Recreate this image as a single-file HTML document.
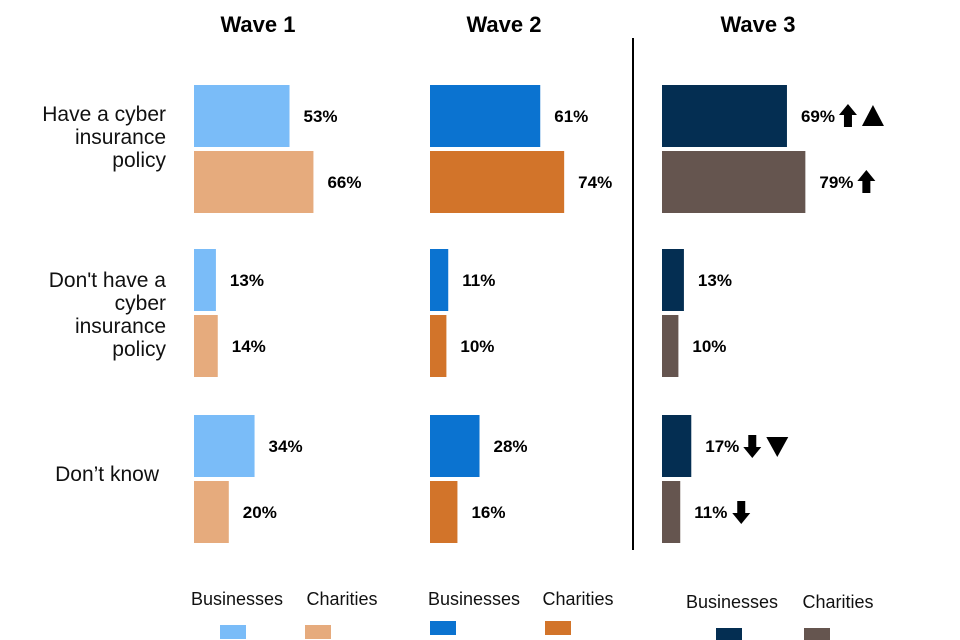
<!DOCTYPE html>
<html><head><meta charset="utf-8"><style>
body{margin:0;background:#fff}
svg{display:block;font-family:"Liberation Sans",Arial,sans-serif}
</style></head><body>
<svg id="c" width="960" height="640" viewBox="0 0 960 640">
<line x1="633" y1="38" x2="633" y2="550" stroke="#000" stroke-width="2"/>
<g font-size="21" fill="#111" text-anchor="end">
<text x="166" y="121"><tspan x="166">Have a cyber</tspan><tspan x="166" dy="23">insurance</tspan><tspan x="166" dy="23">policy</tspan></text>
<text x="166" y="287"><tspan x="166">Don't have a</tspan><tspan x="166" dy="23">cyber</tspan><tspan x="166" dy="23">insurance</tspan><tspan x="166" dy="23">policy</tspan></text>
<text x="159" y="481">Don’t know</text>
</g>
<g id="bars"></g>
</svg>
<script>
const waves=["Wave 1","Wave 2","Wave 3"];
const categories=["Have a cyber insurance policy","Don't have a cyber insurance policy","Don't know"];
const businesses=[[53,13,34],[61,11,28],[69,13,17]];
const charities=[[66,14,20],[74,10,16],[79,10,11]];
const busMarks=[["","",""],["","",""],["up-tri","","down-tri"]];
const charMarks=[["","",""],["","",""],["up","","down"]];
const ns="http://www.w3.org/2000/svg";
const g=document.getElementById('bars');
const waveX=[194,430,662], titleX=[258,504,758];
const busCol=["#7abcf8","#0b73d0","#042e52"], charCol=["#e6ab7d","#d2742a","#65554f"];
const groupY=[85,249,415];
const scale=p=>p*1.84-2;
function el(t,a){const e=document.createElementNS(ns,t);for(const k in a)e.setAttribute(k,a[k]);g.appendChild(e);return e;}
function arrow(x,cy,dir){const s=dir==="up"?-1:1;
 const e=el('path',{d:`M${x} ${cy+12*s} L${x-9} ${cy+1*s} L${x-4} ${cy+1*s} L${x-4} ${cy-11*s} L${x+4} ${cy-11*s} L${x+4} ${cy+1*s} L${x+9} ${cy+1*s} Z`,fill:'#000'});
 
 }
function tri(x,cy,dir){
 const e=el('path',{d:dir==="up"?`M${x+11} ${cy-11} L${x} ${cy+10} L${x+22} ${cy+10} Z`:`M${x} ${cy-9} L${x+22} ${cy-9} L${x+11} ${cy+11} Z`,fill:'#000'});
 
 }
function marks(x,cy,m){if(!m)return;
 if(m==="up"||m==="down"){arrow(x+9,cy,m);}
 else{const d=m.startsWith("up")?"up":"down";arrow(x+9,cy,d);tri(x+23,cy,d);}}
waves.forEach((w,wi)=>{
 const t=el('text',{x:titleX[wi],y:32,'font-size':22,'font-weight':'bold','text-anchor':'middle',fill:'#000'});t.textContent=w;
 
 
 categories.forEach((c,ci)=>{
  [[businesses,busCol,0,busMarks,'business'],[charities,charCol,66,charMarks,'charity']].forEach(([arr,col,off,mk,nm])=>{
   const v=arr[wi][ci], y=groupY[ci]+off, h=62, w2=scale(v);
   const r=el('rect',{x:waveX[wi],y:y,width:w2,height:h,fill:col[wi]});
   
   
   const lx=waveX[wi]+w2+14;
   const tx=el('text',{x:lx,y:y+h/2+6,'font-size':17,'font-weight':'bold',fill:'#000'});tx.textContent=v+'%';
   
   
   marks(lx+38,y+h/2,mk[wi][ci]);
  });
 });
});
const legY=[605,605,608], sqY=[625,621,628], legBx=[[220,305],[430,545],[716,804]], legTx=[[237,342],[474,578],[732,838]];
waves.forEach((w,wi)=>{
 ["Businesses","Charities"].forEach((n,ni)=>{
  const t=el('text',{x:legTx[wi][ni],y:legY[wi],'font-size':18,'text-anchor':'middle',fill:'#111'});t.textContent=n;
  
  
  const r=el('rect',{x:legBx[wi][ni],y:sqY[wi],width:26,height:14,fill:ni?charCol[wi]:busCol[wi]});
  
  
 });
});
</script>
</body></html>
